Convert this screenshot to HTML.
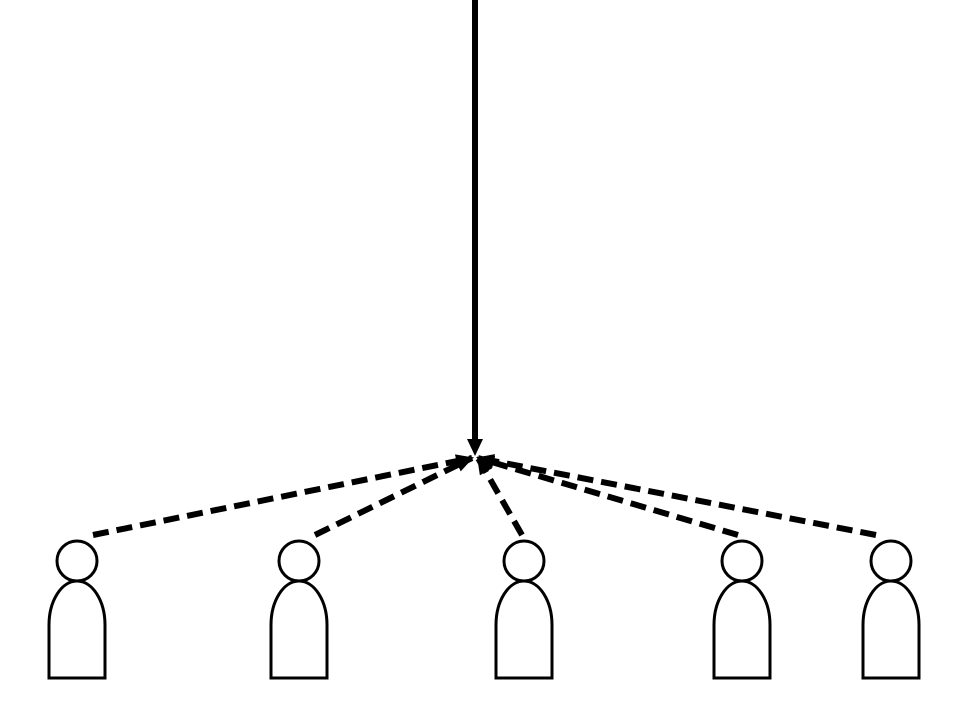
<!DOCTYPE html>
<html><head><style>html,body{margin:0;background:#fff}svg{display:block}</style></head>
<body>
<svg width="960" height="720" viewBox="0 0 960 720" xmlns="http://www.w3.org/2000/svg">
<defs>
<marker id="a" markerWidth="18" markerHeight="14" refX="16" refY="7" orient="auto" markerUnits="userSpaceOnUse">
<path d="M0,0 L18,7 L0,14 Z" fill="#000"/>
</marker>
<g id="p" fill="#fff" stroke="#000" stroke-width="3">
<circle cx="0" cy="561" r="20"/>
<path d="M-28,678 V625 A28,44 0 0 1 28,625 V678 Z"/>
</g>
</defs>
<line x1="475" y1="0" x2="475" y2="440" stroke="#000" stroke-width="6"/>
<path d="M467,439 L483,439 L475,456 Z" fill="#000"/>
<g stroke="#000" stroke-width="6" stroke-dasharray="16,8" fill="none">
<line x1="93" y1="535" x2="472" y2="458" marker-end="url(#a)"/>
<line x1="315" y1="535" x2="472" y2="458" marker-end="url(#a)"/>
<line x1="522" y1="535" x2="478" y2="458" marker-end="url(#a)"/>
<line x1="738" y1="535" x2="478" y2="458" marker-end="url(#a)"/>
<line x1="876" y1="535" x2="478" y2="458" marker-end="url(#a)"/>
</g>
<use href="#p" x="77"/>
<use href="#p" x="299"/>
<use href="#p" x="524"/>
<use href="#p" x="742"/>
<use href="#p" x="891"/>
</svg>
</body></html>
